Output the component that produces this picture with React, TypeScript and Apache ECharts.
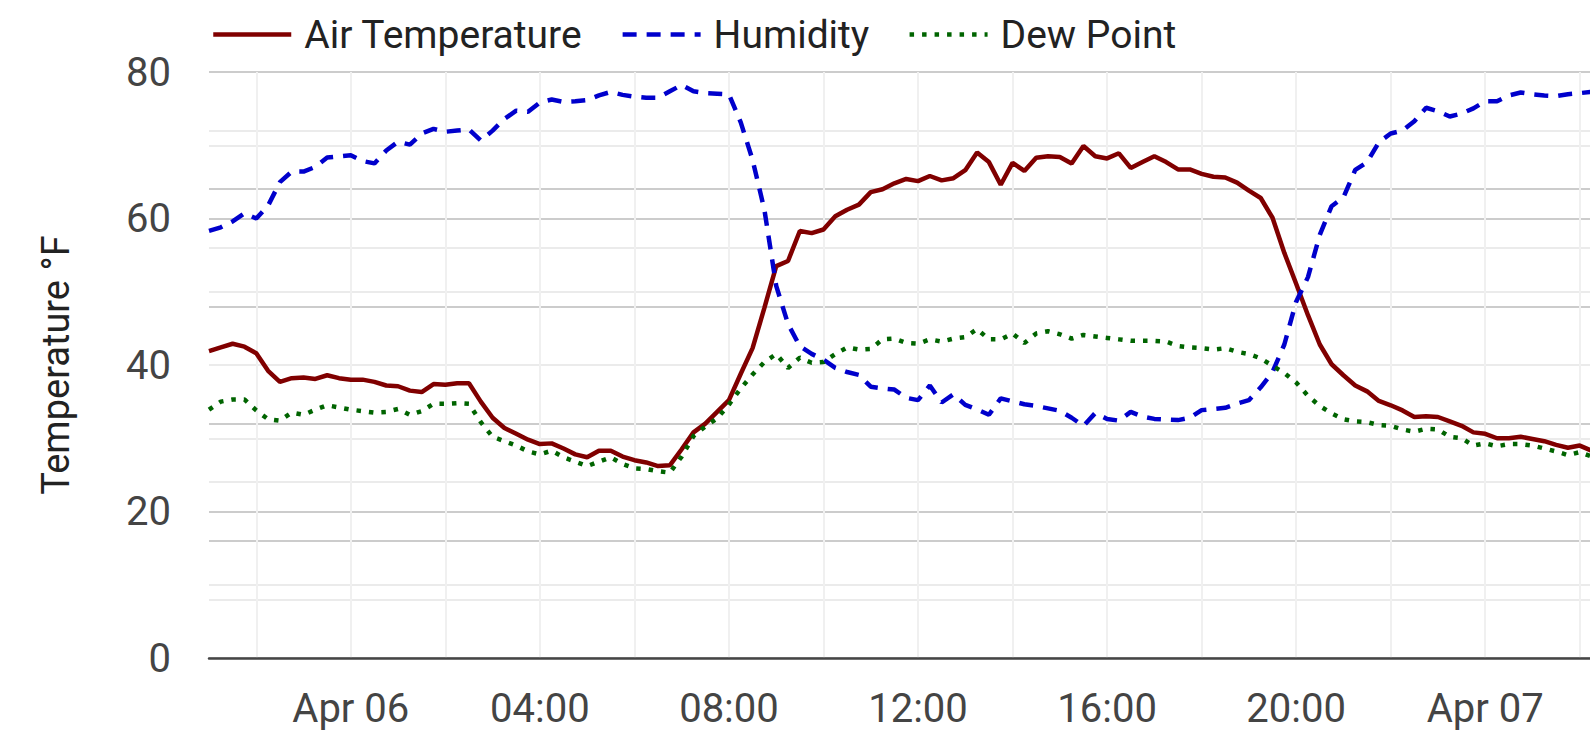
import React, { useEffect, useRef } from "react";
import * as echarts from "echarts";

// 15-minute readings starting Apr 05 21:00
const START = Date.UTC(2024, 3, 5, 21, 0);
const STEP_MS = 15 * 60 * 1000;
const X_MAX = Date.UTC(2024, 3, 7, 2, 13);

const airTemperature = [
  41.9, 42.4, 42.9, 42.5, 41.6, 39.2, 37.7, 38.2, 38.3, 38.1,
  38.6, 38.2, 38.0, 38.0, 37.7, 37.2, 37.1, 36.5, 36.3, 37.4,
  37.3, 37.5, 37.5, 35.0, 32.8, 31.4, 30.6, 29.8, 29.2, 29.3,
  28.6, 27.8, 27.4, 28.3, 28.3, 27.5, 27.0, 26.7, 26.2, 26.3,
  28.5, 30.8, 32.0, 33.6, 35.2, 38.8, 42.3, 47.8, 53.5, 54.2,
  58.3, 58.0, 58.5, 60.3, 61.2, 61.9, 63.6, 64.0, 64.8, 65.4,
  65.1, 65.8, 65.2, 65.5, 66.6, 69.0, 67.7, 64.6, 67.6, 66.5,
  68.3, 68.5, 68.4, 67.5, 69.9, 68.5, 68.2, 68.9, 66.9, 67.7,
  68.5, 67.7, 66.7, 66.7, 66.1, 65.7, 65.6, 64.9, 63.8, 62.8,
  60.1, 55.3, 51.1, 46.8, 42.8, 40.1, 38.6, 37.2, 36.4, 35.1,
  34.5, 33.8, 32.9, 33.0, 32.9, 32.3, 31.7, 30.8, 30.6, 30.0,
  30.0, 30.2, 29.9, 29.6, 29.1, 28.7, 29.0, 28.3,
];

const humidity = [
  72.9, 73.5, 74.5, 75.9, 75.0, 77.2, 81.2, 83.0, 83.0, 83.8,
  85.4, 85.6, 85.8, 84.8, 84.4, 86.6, 88.1, 87.6, 89.5, 90.3,
  89.8, 90.0, 90.2, 88.3, 90.0, 92.0, 93.4, 93.2, 94.8, 95.3,
  94.9, 95.0, 95.2, 96.0, 96.6, 96.1, 95.8, 95.6, 95.6, 96.7,
  97.8, 96.7, 96.4, 96.3, 96.2, 91.4, 85.0, 76.5, 63.5, 57.0,
  53.2, 51.9, 50.9, 49.5, 48.8, 48.3, 46.3, 46.0, 45.8, 44.4,
  44.0, 46.5, 43.6, 45.0, 43.2, 42.4, 41.5, 44.3, 43.8, 43.3,
  43.0, 42.6, 42.2, 41.0, 39.6, 41.8, 40.8, 40.5, 42.0, 41.2,
  40.8, 40.7, 40.6, 41.0, 42.3, 42.5, 42.7, 43.4, 44.0, 46.2,
  48.8, 53.5, 60.8, 65.0, 72.2, 77.1, 78.6, 83.3, 84.6, 88.0,
  89.5, 90.0, 91.6, 93.9, 93.3, 92.4, 92.9, 93.8, 95.0, 95.0,
  96.0, 96.5, 96.2, 96.0, 95.9, 96.2, 96.4, 96.6,
];

const dewPoint = [
  33.9, 35.0, 35.3, 35.3, 33.8, 32.6, 32.4, 33.5, 33.2, 33.9,
  34.5, 34.2, 33.9, 33.7, 33.5, 33.6, 34.0, 33.2, 33.7, 34.7,
  34.7, 34.8, 34.7, 32.2, 30.2, 29.6, 29.0, 28.2, 27.8, 28.3,
  27.4, 26.8, 26.2, 26.8, 27.4, 26.5, 25.9, 25.8, 25.5, 25.3,
  27.5, 30.3, 31.6, 32.7, 34.6, 36.8, 38.7, 40.4, 41.5, 39.6,
  41.0, 40.3, 40.4, 41.5, 42.4, 42.1, 42.2, 43.5, 43.6, 43.0,
  42.9, 43.5, 43.2, 43.6, 43.8, 44.9, 43.5, 43.5, 44.3, 43.0,
  44.3, 44.6, 44.2, 43.6, 44.1, 43.9, 43.7, 43.5, 43.3, 43.3,
  43.3, 43.2, 42.6, 42.4, 42.3, 42.1, 42.3, 41.8, 41.5, 40.9,
  39.9, 38.9, 37.6, 35.8, 34.4, 33.4, 32.6, 32.3, 32.2, 31.8,
  31.7, 31.2, 30.9, 31.3, 31.2, 30.2, 30.0, 29.0, 29.3, 28.9,
  29.2, 29.2, 29.0, 28.6, 28.2, 27.7, 28.1, 27.5,
];

// x grid lines every 2 hours, labels every 4 hours
const gridTicks = [
  Date.UTC(2024, 3, 5, 22), Date.UTC(2024, 3, 6, 0), Date.UTC(2024, 3, 6, 2),
  Date.UTC(2024, 3, 6, 4), Date.UTC(2024, 3, 6, 6), Date.UTC(2024, 3, 6, 8),
  Date.UTC(2024, 3, 6, 10), Date.UTC(2024, 3, 6, 12), Date.UTC(2024, 3, 6, 14),
  Date.UTC(2024, 3, 6, 16), Date.UTC(2024, 3, 6, 18), Date.UTC(2024, 3, 6, 20),
  Date.UTC(2024, 3, 6, 22), Date.UTC(2024, 3, 7, 0), Date.UTC(2024, 3, 7, 2),
];
const labelTicks = [
  Date.UTC(2024, 3, 6, 0), Date.UTC(2024, 3, 6, 4), Date.UTC(2024, 3, 6, 8),
  Date.UTC(2024, 3, 6, 12), Date.UTC(2024, 3, 6, 16), Date.UTC(2024, 3, 6, 20),
  Date.UTC(2024, 3, 7, 0),
];
const MONTHS = ["Jan", "Feb", "Mar", "Apr", "May", "Jun", "Jul", "Aug", "Sep", "Oct", "Nov", "Dec"];

const pad = (n: number) => (n < 10 ? "0" + n : "" + n);
const fmtTime = (v: number) => {
  const d = new Date(v);
  const h = d.getUTCHours();
  if (h === 0) return MONTHS[d.getUTCMonth()] + " " + pad(d.getUTCDate());
  return pad(h) + ":" + pad(d.getUTCMinutes());
};

const withTime = (arr: number[]) => arr.map((v, i) => [START + i * STEP_MS, v]);

const FONT = "Roboto, 'Noto Sans', sans-serif";
const FS = 40;

export default function App() {
  const ref = useRef<HTMLDivElement>(null);
  useEffect(() => {
    if (!ref.current) return;
    const chart = echarts.init(ref.current, undefined, { renderer: "svg" });
    chart.setOption({
      animation: false,
      backgroundColor: "#ffffff",
      textStyle: { fontFamily: FONT },
      legend: {
        left: 206,
        top: 10,
        itemWidth: 78,
        itemHeight: 16,
        itemGap: 38,
        itemStyle: { opacity: 0 },
        lineStyle: { width: 4.5 },
        formatter: (name: string) => (name === "Humidity" ? "{wide|" + name + "}" : name),
        textStyle: {
          fontSize: 39,
          color: "#222222",
          fontFamily: FONT,
          padding: [0, 0, 0, 8],
          rich: {
            wide: { fontSize: 39, color: "#222222", fontFamily: FONT, padding: [0, 12, 0, 0] },
          },
        },
        data: ["Air Temperature", "Humidity", "Dew Point"],
      },
      grid: { left: 209, right: 0, top: 72, bottom: 85, containLabel: false },
      xAxis: {
        type: "value",
        min: START,
        max: X_MAX,
        axisLine: { show: true, onZero: false, lineStyle: { color: "#454545", width: 2.5 } },
        axisTick: { show: false, customValues: gridTicks },
        axisLabel: {
          customValues: labelTicks,
          formatter: (v: number) => fmtTime(v),
          fontSize: FS,
          color: "#444444",
          margin: 30,
          fontFamily: FONT,
        },
        splitLine: { show: true, lineStyle: { color: "#f0f0f0", width: 2 } },
      },
      yAxis: [
        {
          type: "value",
          min: 0,
          max: 80,
          interval: 20,
          name: "Temperature °F",
          nameLocation: "middle",
          nameGap: 134,
          nameRotate: 90,
          nameTextStyle: { fontSize: 38, color: "#222222", fontFamily: FONT },
          axisLine: { show: false },
          axisTick: { show: false },
          axisLabel: { fontSize: FS, color: "#444444", margin: 38, fontFamily: FONT },
          splitLine: { show: true, lineStyle: { color: "#cccccc", width: 2 } },
          minorTick: { show: false, splitNumber: 2 },
          minorSplitLine: { show: true, lineStyle: { color: "#ebebeb", width: 2 } },
        },
        {
          type: "value",
          min: 0,
          max: 100,
          interval: 20,
          position: "right",
          axisLine: { show: false },
          axisTick: { show: false },
          axisLabel: { show: false },
          splitLine: { show: true, lineStyle: { color: "#cccccc", width: 2 } },
          minorTick: { show: false, splitNumber: 2 },
          minorSplitLine: { show: true, lineStyle: { color: "#ebebeb", width: 2 } },
        },
      ],
      series: [
        {
          name: "Air Temperature",
          type: "line",
          yAxisIndex: 0,
          symbol: "none",
          data: withTime(airTemperature),
          lineStyle: { color: "#800000", width: 4.5 },
          itemStyle: { color: "#800000" },
        },
        {
          name: "Humidity",
          type: "line",
          yAxisIndex: 1,
          symbol: "none",
          data: withTime(humidity),
          lineStyle: { color: "#0000cc", width: 4.5, type: [14, 10] },
          itemStyle: { color: "#0000cc" },
        },
        {
          name: "Dew Point",
          type: "line",
          yAxisIndex: 0,
          symbol: "none",
          data: withTime(dewPoint),
          lineStyle: { color: "#006400", width: 4.5, type: [4.5, 8] },
          itemStyle: { color: "#006400" },
        },
      ],
    });
    return () => chart.dispose();
  }, []);
  return (
    <div
      ref={ref}
      style={{ position: "fixed", left: 0, top: 0, width: 1590, height: 743, background: "#fff" }}
    />
  );
}
